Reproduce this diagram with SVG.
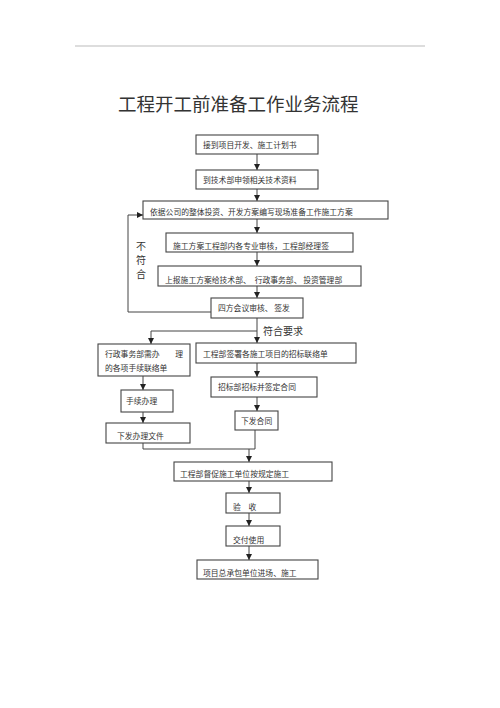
<svg xmlns="http://www.w3.org/2000/svg" width="500" height="708" viewBox="0 0 500 708">
<style>
.b{fill:#fff;stroke:#444;stroke-width:1.1}
.t{font-family:"Noto Sans CJK SC","Liberation Serif",serif;font-size:7.8px;fill:#333}
.c{fill:none;stroke:#444;stroke-width:1}
.l{font-family:"Noto Sans CJK SC","Liberation Serif",serif;font-size:10px;fill:#333}
</style>
<defs>
<marker id="ah" viewBox="0 0 6 6" refX="6" refY="3" markerWidth="6" markerHeight="6" markerUnits="userSpaceOnUse" orient="auto">
<path d="M0,0 L6,3 L0,6 Z" fill="#222"/>
</marker>
</defs>
<rect width="500" height="708" fill="#fff"/>
<line x1="75" y1="46" x2="425" y2="46" stroke="#aaa" stroke-width="0.8"/>
<text x="118" y="111" font-family="Noto Sans CJK SC,Liberation Serif,serif" font-size="18.5" fill="#333">工程开工前准备工作业务流程</text>

<g id="connectors">
<line class="c" x1="257" y1="154" x2="257" y2="170" marker-end="url(#ah)"/>
<line class="c" x1="257" y1="189" x2="257" y2="201" marker-end="url(#ah)"/>
<path class="c" d="M211,312 H128 V215 H143" marker-end="url(#ah)"/>
<line class="c" x1="257" y1="219" x2="257" y2="233" marker-end="url(#ah)"/>
<line class="c" x1="257" y1="252" x2="257" y2="266" marker-end="url(#ah)"/>
<line class="c" x1="257" y1="286" x2="257" y2="298" marker-end="url(#ah)"/>
<line class="c" x1="257" y1="318" x2="257" y2="343" marker-end="url(#ah)"/>
<path class="c" d="M257,331 H151 V344" marker-end="url(#ah)"/>
<line class="c" x1="143" y1="376" x2="143" y2="390" marker-end="url(#ah)"/>
<line class="c" x1="143" y1="412" x2="143" y2="423" marker-end="url(#ah)"/>
<line class="c" x1="257" y1="363" x2="257" y2="377" marker-end="url(#ah)"/>
<line class="c" x1="257" y1="397" x2="257" y2="411" marker-end="url(#ah)"/>
<path class="c" d="M143,443 V449 H255 V430"/>
<line class="c" x1="249" y1="449" x2="249" y2="462" marker-end="url(#ah)"/>
<line class="c" x1="249" y1="481" x2="249" y2="493" marker-end="url(#ah)"/>
<line class="c" x1="249" y1="513" x2="249" y2="526" marker-end="url(#ah)"/>
<line class="c" x1="249" y1="546" x2="249" y2="560" marker-end="url(#ah)"/>
<text class="l" x="141" y="250" text-anchor="middle">不</text>
<text class="l" x="141" y="264" text-anchor="middle">符</text>
<text class="l" x="141" y="278" text-anchor="middle">合</text>
<text class="l" x="263" y="335">符合要求</text>
</g>

<g id="n1"><rect class="b" x="196" y="135" width="122" height="19"/><text class="t" x="203" y="148">接到项目开发、施工计划书</text></g>
<g id="n2"><rect class="b" x="196" y="170" width="122" height="19"/><text class="t" x="203" y="183">到技术部申领相关技术资料</text></g>
<g id="n3"><rect class="b" x="143" y="201" width="245" height="18"/><text class="t" x="150" y="215">依据公司的整体投资、开发方案编写现场准备工作施工方案</text></g>
<g id="n4"><rect class="b" x="166" y="233" width="187" height="19"/><text class="t" x="173" y="249">施工方案工程部内各专业审核，工程部经理签</text></g>
<g id="n5"><rect class="b" x="158" y="266" width="203" height="20"/><text class="t" x="165" y="283" xml:space="preserve">上报施工方案给技术部、　行政事务部、 投资管理部</text></g>
<g id="n6"><rect class="b" x="211" y="298" width="92" height="20"/><text class="t" x="218" y="311" xml:space="preserve">四方会议审核、 签发</text></g>
<g id="n7"><rect class="b" x="98" y="344" width="92" height="32"/><text class="t" x="105" y="357" xml:space="preserve">行政事务部需办　　理</text><text class="t" x="105" y="371">的各项手续联络单</text></g>
<g id="n8"><rect class="b" x="196" y="343" width="160" height="20"/><text class="t" x="203" y="357">工程部签署各施工项目的招标联络单</text></g>
<g id="n9"><rect class="b" x="121" y="390" width="52" height="22"/><text class="t" x="126" y="404">手续办理</text></g>
<g id="n10"><rect class="b" x="211" y="377" width="106" height="20"/><text class="t" x="218" y="390">招标部招标并签定合同</text></g>
<g id="n11"><rect class="b" x="235" y="411" width="43" height="19"/><text class="t" x="241" y="424">下发合同</text></g>
<g id="n12"><rect class="b" x="106" y="423" width="84" height="20"/><text class="t" x="117" y="439">下发办理文件</text></g>
<g id="n13"><rect class="b" x="174" y="462" width="158" height="19"/><text class="t" x="180" y="477">工程部督促施工单位按规定施工</text></g>
<g id="n14"><rect class="b" x="226" y="493" width="54" height="20"/><text class="t" x="233" y="510" xml:space="preserve">验　收</text></g>
<g id="n15"><rect class="b" x="226" y="526" width="54" height="20"/><text class="t" x="233" y="543">交付使用</text></g>
<g id="n16"><rect class="b" x="197" y="560" width="121" height="19"/><text class="t" x="203" y="576">项目总承包单位进场、施工</text></g>
</svg>
